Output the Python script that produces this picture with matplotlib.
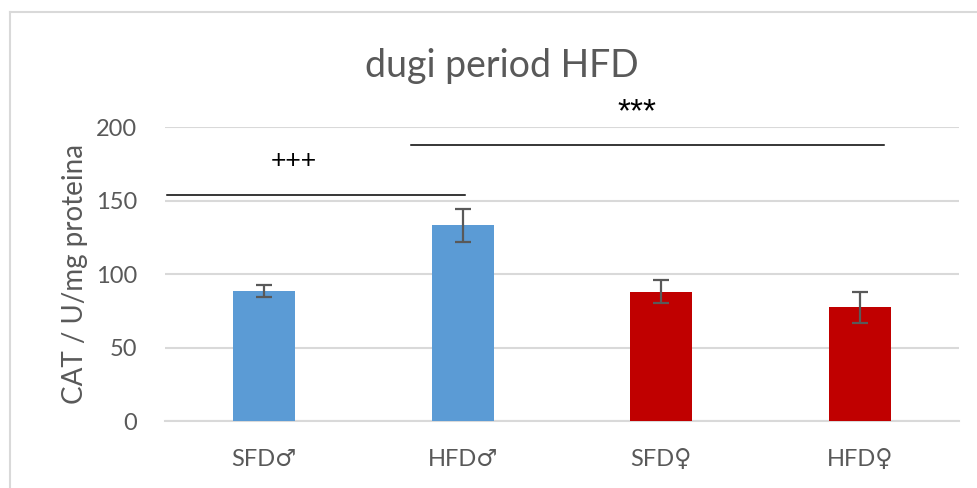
import numpy as np
import matplotlib.pyplot as plt
from matplotlib.lines import Line2D

# ============================================================
# DATA
# ============================================================
groups = ["SFD♂", "HFD♂", "SFD♀", "HFD♀"]
means = [88.5, 133, 88, 77.5]
errors = [4, 11, 8, 10.5]
bar_colors = ["#5B9BD5", "#5B9BD5", "#C00000", "#C00000"]

# significance lines: (x_start, x_end, y)
sig_spans = [(-0.49, 1.01, 154), (0.74, 3.12, 188)]
sig_labels = ["+++", "***"]
sig_label_pos = [(0.15, 177), (1.88, 210)]
sig_label_size = [19, 24]

yticks = [0, 50, 100, 150, 200]

FONT = ["Lato", "DejaVu Sans"]
GREY = "#595959"

# ============================================================
# PLOT
# ============================================================
plt.rcParams["font.family"] = FONT

fig = plt.figure(figsize=(9.78, 4.88), dpi=100)
ax = fig.add_axes([165 / 978, 1 - 421 / 488, 794 / 978, 294 / 488])

x = np.arange(len(groups))
ax.bar(x, means, width=0.31, color=bar_colors, zorder=3)
ax.errorbar(x, means, yerr=errors, fmt="none", ecolor=GREY,
            elinewidth=1.6, capsize=5.5, capthick=1.6, zorder=4)

ax.set_xlim(-0.5, 3.5)
ax.set_ylim(0, 200)
ax.set_yticks(yticks)
ax.set_xticks(x)
ax.set_xticklabels(groups)
ax.tick_params(axis="both", length=0, labelsize=17, colors=GREY)
ax.tick_params(axis="x", pad=20)
ax.tick_params(axis="y", pad=20)
ax.grid(axis="y", color="#D9D9D9", linewidth=1.5, zorder=0)
for s in ["top", "right", "left"]:
    ax.spines[s].set_visible(False)
ax.spines["bottom"].set_color("#D9D9D9")
ax.spines["bottom"].set_linewidth(1.5)

ax.set_ylabel("CAT / U/mg proteina", fontsize=20, color=GREY, labelpad=6)

# significance lines + labels
for (x0, x1, yl), lab, (tx, ty), fs in zip(sig_spans, sig_labels, sig_label_pos, sig_label_size):
    ax.plot([x0, x1], [yl, yl], color="black", linewidth=1.1, clip_on=False, zorder=5)
    ax.text(tx, ty, lab, ha="center", va="center", fontsize=fs, color="black",
            family=["Liberation Sans", "DejaVu Sans"], clip_on=False)

fig.text(502 / 978, 1 - 66 / 488, "dugi period HFD", ha="center", va="center",
         fontsize=27, color=GREY)

# chart-area border (top and left visible)
fig.add_artist(Line2D([10 / 978, 1], [1 - 12 / 488, 1 - 12 / 488],
                      transform=fig.transFigure, color="#D9D9D9", linewidth=1.5))
fig.add_artist(Line2D([10 / 978, 10 / 978], [0, 1 - 12 / 488],
                      transform=fig.transFigure, color="#D9D9D9", linewidth=1.5))

fig.savefig("out.png", dpi=100)
